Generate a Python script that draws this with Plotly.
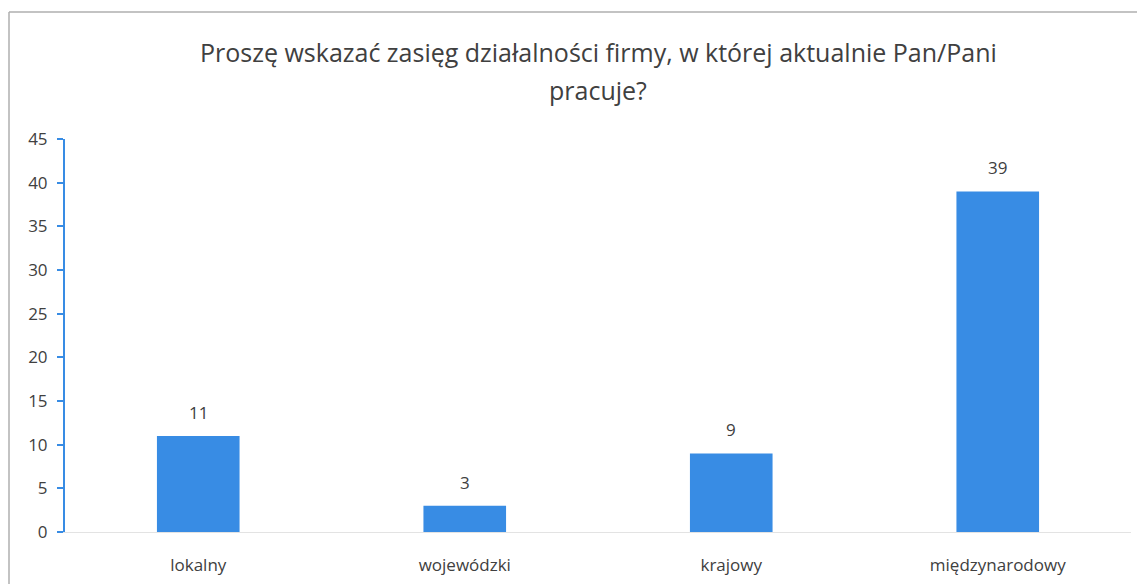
import plotly.graph_objects as go

categories = ["lokalny", "wojewódzki", "krajowy", "międzynarodowy"]
values = [11, 3, 9, 39]
y_ticks = [0, 5, 10, 15, 20, 25, 30, 35, 40, 45]

title_line1 = "Proszę wskazać zasięg działalności firmy, w której aktualnie Pan/Pani"
title_line2 = "pracuje?"

TEXT = "#404040"
BAR = "#388CE4"
FONT = "Open Sans"
BORDER = "#AFAFAF"

# the page body has an 8px default margin, so the figure is placed at (8, 8)
OFF = 8
W, H = 1145 - OFF, 584 - OFF
L = 65 - OFF
T = 139 - OFF
B = H - (532 - OFF)
R = W - (1131 - OFF)
pw, ph = W - L - R, H - T - B

def px_x(p):
    return (p - OFF - L) / pw

def px_y(p):
    return (H - B - (p - OFF)) / ph

fig = go.Figure(go.Bar(
    x=categories, y=values,
    marker=dict(color=BAR, line=dict(width=0)),
    width=0.31,
    hoverinfo="x+y",
))

for c, v in zip(categories, values):
    fig.add_annotation(x=c, y=v, text=str(v), showarrow=False,
                       yanchor="bottom", yshift=10,
                       font=dict(size=17, color=TEXT, family=FONT))

fig.add_annotation(xref="paper", yref="paper", x=0.5, y=px_y(52), text=title_line1,
                   showarrow=False, xanchor="center", yanchor="middle",
                   font=dict(size=25, color=TEXT, family=FONT))
fig.add_annotation(xref="paper", yref="paper", x=0.5, y=px_y(90), text=title_line2,
                   showarrow=False, xanchor="center", yanchor="middle",
                   font=dict(size=25, color=TEXT, family=FONT))

# chart frame (top, left, right edges)
frame_left, frame_right, frame_top, frame_bottom = 9, 1140, 12, 600
for x0, y0, x1, y1 in [
    (frame_left, frame_top, frame_right, frame_top),
    (frame_left, frame_top, frame_left, frame_bottom),
    (frame_right, frame_top, frame_right, frame_bottom),
]:
    fig.add_shape(type="line", xref="paper", yref="paper",
                  x0=px_x(x0), y0=px_y(y0), x1=px_x(x1), y1=px_y(y1),
                  line=dict(color=BORDER, width=1.5), layer="above")

fig.update_layout(
    width=W, height=H,
    margin=dict(l=L, r=R, t=T, b=B, autoexpand=False),
    paper_bgcolor="white", plot_bgcolor="white",
    font=dict(family=FONT, color=TEXT, size=17),
    showlegend=False,
    bargap=0.69,
)
fig.update_xaxes(showline=True, linecolor="#E3E3E3", linewidth=1, ticks="",
                 tickfont=dict(size=17, color=TEXT, family=FONT), showgrid=False,
                 ticklabelstandoff=18, automargin=False)
fig.update_yaxes(range=[0, 45], tickvals=y_ticks, showgrid=False, zeroline=False,
                 showline=True, linecolor=BAR, linewidth=2,
                 ticks="outside", tickcolor=BAR, ticklen=6, tickwidth=2,
                 tickfont=dict(size=17, color=TEXT, family=FONT), ticklabelstandoff=6,
                 automargin=False)

fig.write_html("out.html")
